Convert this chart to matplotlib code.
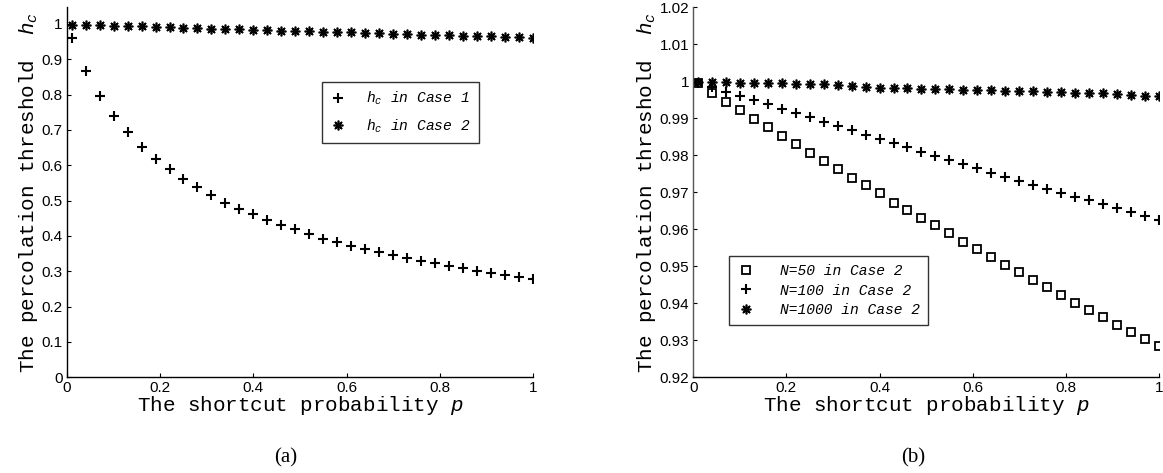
import numpy as np
import matplotlib
matplotlib.use('Agg')
import matplotlib.pyplot as plt

plt.rcParams['mathtext.fontset'] = 'custom'
plt.rcParams['mathtext.rm'] = 'Liberation Mono'
plt.rcParams['mathtext.it'] = 'Liberation Mono:italic'

# shortcut probability p
p = [0.01, 0.04, 0.07, 0.10, 0.13, 0.16, 0.19, 0.22, 0.25, 0.28, 0.31, 0.34,
     0.37, 0.40, 0.43, 0.46, 0.49, 0.52, 0.55, 0.58, 0.61, 0.64, 0.67, 0.70,
     0.73, 0.76, 0.79, 0.82, 0.85, 0.88, 0.91, 0.94, 0.97, 1.00]

# (a) threshold h_c
hc_case1 = [0.960, 0.868, 0.796, 0.740, 0.693, 0.653, 0.619, 0.589, 0.560, 0.538,
            0.516, 0.492, 0.476, 0.461, 0.445, 0.431, 0.419, 0.405, 0.392, 0.383,
            0.372, 0.363, 0.355, 0.346, 0.338, 0.329, 0.323, 0.315, 0.309, 0.302,
            0.296, 0.290, 0.285, 0.279]
hc_case2 = [0.998, 0.997, 0.996, 0.995, 0.994, 0.993, 0.991, 0.990, 0.989, 0.988,
            0.987, 0.986, 0.985, 0.984, 0.983, 0.981, 0.980, 0.979, 0.978, 0.977,
            0.976, 0.975, 0.974, 0.973, 0.972, 0.970, 0.969, 0.968, 0.967, 0.966,
            0.965, 0.963, 0.962, 0.960]

# (b) threshold h_c in case 2 for several N
hc_n50 = [0.9994, 0.9968, 0.9944, 0.9922, 0.9897, 0.9875, 0.9852, 0.9829, 0.9806,
          0.9784, 0.9762, 0.9739, 0.9719, 0.9697, 0.9671, 0.9652, 0.9631, 0.9610,
          0.9589, 0.9566, 0.9546, 0.9525, 0.9504, 0.9484, 0.9463, 0.9443, 0.9423,
          0.9402, 0.9382, 0.9363, 0.9342, 0.9323, 0.9304, 0.9284]
hc_n100 = [0.9996, 0.9983, 0.9971, 0.9960, 0.9949, 0.9937, 0.9925, 0.9913, 0.9902,
           0.9890, 0.9878, 0.9868, 0.9854, 0.9844, 0.9832, 0.9821, 0.9809, 0.9798,
           0.9786, 0.9775, 0.9764, 0.9753, 0.9742, 0.9731, 0.9720, 0.9708, 0.9698,
           0.9688, 0.9679, 0.9669, 0.9658, 0.9647, 0.9636, 0.9625]
hc_n1000 = [0.9998, 0.9998, 0.9997, 0.9996, 0.9995, 0.9995, 0.9994, 0.9993, 0.9992,
            0.9991, 0.9990, 0.9988, 0.9983, 0.9982, 0.9982, 0.9980, 0.9979, 0.9979,
            0.9978, 0.9977, 0.9976, 0.9975, 0.9974, 0.9973, 0.9972, 0.9971, 0.9970,
            0.9968, 0.9968, 0.9967, 0.9965, 0.9963, 0.9961, 0.9960]

xticks = [0, 0.2, 0.4, 0.6, 0.8, 1]
xticklabels = ['0', '0.2', '0.4', '0.6', '0.8', '1']
yticks_a = [0, 0.1, 0.2, 0.3, 0.4, 0.5, 0.6, 0.7, 0.8, 0.9, 1]
yticklabels_a = ['0', '0.1', '0.2', '0.3', '0.4', '0.5', '0.6', '0.7', '0.8', '0.9', '1']
yticks_b = [0.92, 0.93, 0.94, 0.95, 0.96, 0.97, 0.98, 0.99, 1.00, 1.01, 1.02]
yticklabels_b = ['0.92', '0.93', '0.94', '0.95', '0.96', '0.97', '0.98', '0.99', '1', '1.01', '1.02']

asterisk = (8, 2, 0)
mono = 'Liberation Mono'

fig = plt.figure(figsize=(11.63, 4.73), dpi=100)
ax1 = fig.add_axes([0.0576, 0.2023, 0.4007, 0.7829])
ax2 = fig.add_axes([0.5961, 0.2023, 0.4004, 0.7829])


def style_axes(ax, yticks, yticklabels, ylim, spine_col):
    ax.set_xlim(0, 1)
    ax.set_ylim(*ylim)
    ax.set_xticks(xticks)
    ax.set_xticklabels(xticklabels)
    ax.set_yticks(yticks)
    ax.set_yticklabels(yticklabels)
    for s in ['top', 'right']:
        ax.spines[s].set_visible(False)
    ax.spines['left'].set_color(spine_col)
    ax.spines['bottom'].set_color('black')
    for s in ['left', 'bottom']:
        ax.spines[s].set_linewidth(1.0)
    ax.tick_params(direction='in', length=3, width=0.8, labelsize=11, pad=3)
    for lab in ax.get_xticklabels() + ax.get_yticklabels():
        lab.set_family('Liberation Sans')
    ax.set_xlabel('The shortcut probability $p$', family=mono, fontsize=15, labelpad=-1)
    ax.set_ylabel('The percolation threshold  $h_c$', family=mono, fontsize=15, labelpad=1)


# panel (a)
ax1.plot(p, hc_case1, ls='none', marker='+', ms=7, mew=1.5, color='black',
         label='$h_c$ in Case 1')
ax1.plot(p, hc_case2, ls='none', marker=asterisk, ms=7, mew=1.2, color='black',
         label='$h_c$ in Case 2')
style_axes(ax1, yticks_a, yticklabels_a, (0, 1.048), 'black')
leg1 = ax1.legend(loc='upper left', bbox_to_anchor=(0.2766, 0.8273),
                  bbox_transform=fig.transFigure, prop={'family': mono, 'style': 'italic', 'size': 10.5},
                  frameon=True, fancybox=False, edgecolor='black', handlelength=1.2,
                  handletextpad=1.3, labelspacing=0.7, borderpad=0.55, borderaxespad=0)
leg1.get_frame().set_linewidth(1.0)

# panel (b)
ax2.plot(p, hc_n50, ls='none', marker='s', ms=5.5, mew=1.3, mfc='none', color='black',
         label='N=50 in Case 2')
ax2.plot(p, hc_n100, ls='none', marker='+', ms=7, mew=1.5, color='black',
         label='N=100 in Case 2')
ax2.plot(p, hc_n1000, ls='none', marker=asterisk, ms=7, mew=1.2, color='black',
         label='N=1000 in Case 2')
style_axes(ax2, yticks_b, yticklabels_b, (0.92, 1.02), '#555555')
leg2 = ax2.legend(loc='upper left', bbox_to_anchor=(0.6271, 0.4594),
                  bbox_transform=fig.transFigure, prop={'family': mono, 'style': 'italic', 'size': 10.5},
                  frameon=True, fancybox=False, edgecolor='black', handlelength=1.2,
                  handletextpad=1.7, labelspacing=0.4, borderpad=0.55, borderaxespad=0)
leg2.get_frame().set_linewidth(1.0)

fig.text(286 / 1163, 1 - 458 / 473, '(a)', family='Liberation Serif', fontsize=15,
         ha='center', va='center')
fig.text(913 / 1163, 1 - 458 / 473, '(b)', family='Liberation Serif', fontsize=15,
         ha='center', va='center')

fig.savefig('out.png', dpi=100)
